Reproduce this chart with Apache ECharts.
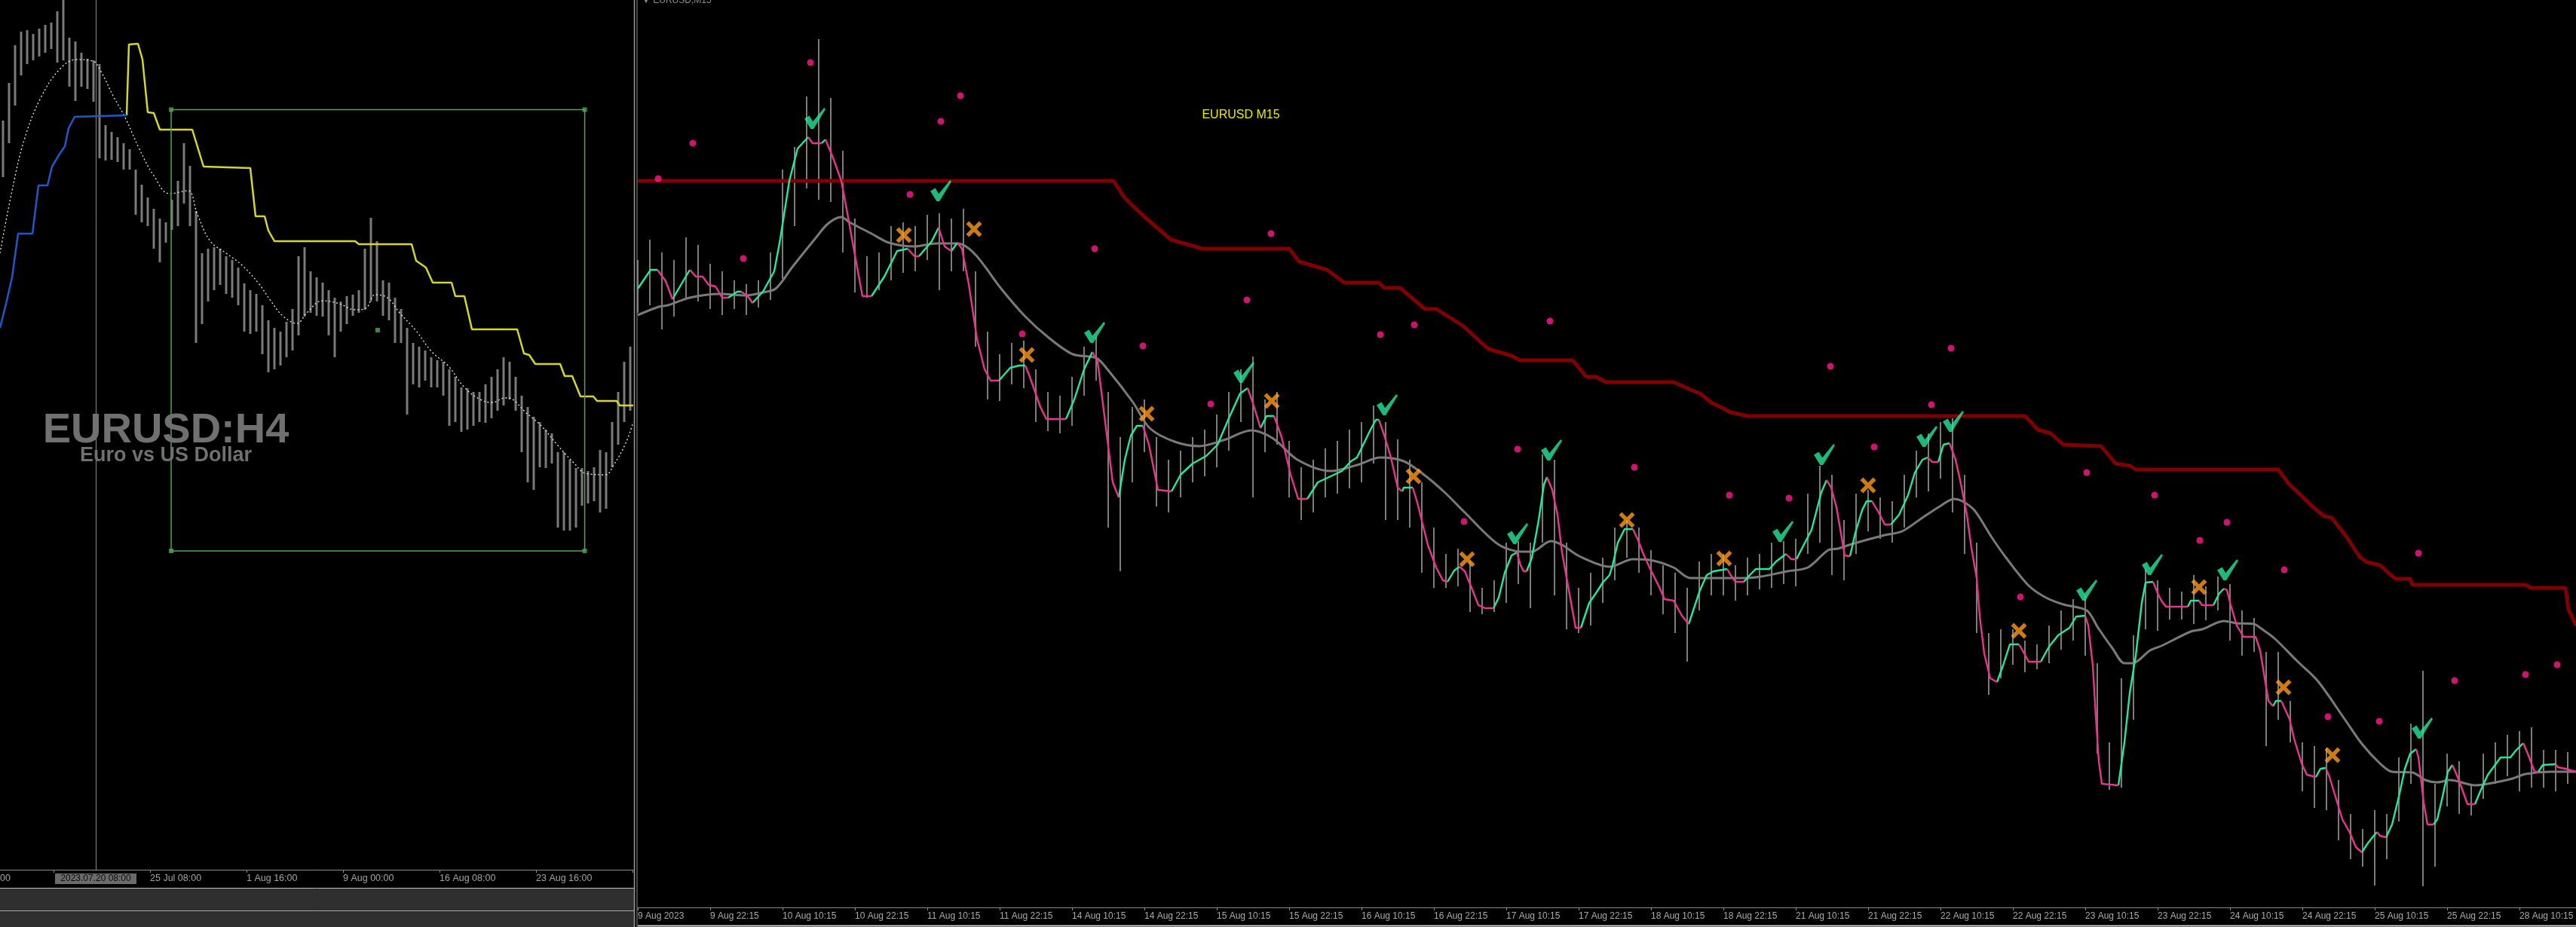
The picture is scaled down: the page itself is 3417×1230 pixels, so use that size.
<!DOCTYPE html>
<html><head><meta charset="utf-8">
<script src="https://cdn.jsdelivr.net/npm/echarts@6/dist/echarts.min.js"></script>
<style>html,body{margin:0;padding:0;background:#000;overflow:hidden}#c{width:3417px;height:1230px}</style>
</head><body><div id="c"></div>
<script>
// ---------- RIGHT PANEL (EURUSD M15), x = M15 bar index from 9 Aug 2023 ----------
const rightTickLabels = ['9 Aug 2023','9 Aug 22:15','10 Aug 10:15','10 Aug 22:15','11 Aug 10:15','11 Aug 22:15','14 Aug 10:15','14 Aug 22:15','15 Aug 10:15','15 Aug 22:15','16 Aug 10:15','16 Aug 22:15','17 Aug 10:15','17 Aug 22:15','18 Aug 10:15','18 Aug 22:15','21 Aug 10:15','21 Aug 22:15','22 Aug 10:15','22 Aug 22:15','23 Aug 10:15','23 Aug 22:15','24 Aug 10:15','24 Aug 22:15','25 Aug 10:15','25 Aug 22:15','28 Aug 10:15'];
const barsPerLabel = 48;
const candleStep = 8; // one aggregated 2-hour range every 8 M15 bars
const m15High = [1.10065,1.10146,1.10095,1.10065,1.10155,1.10125,1.10050,1.10020,1.09984,1.09969,
 1.09984,1.10095,1.10425,1.10515,1.10716,1.10944,1.10710,1.10500,1.10230,1.10080,
 1.10095,1.10200,1.10215,1.10200,1.10245,1.10251,1.10230,1.10269,1.10020,1.09780,
 1.09690,1.09735,1.09744,1.09630,1.09540,1.09525,1.09600,1.09720,1.09759,1.09540,
 1.09360,1.09480,1.09510,1.09360,1.09270,1.09306,1.09360,1.09390,1.09450,1.09540,
 1.09630,1.09681,1.09510,1.09540,1.09345,1.09240,1.09270,1.09315,1.09345,1.09390,
 1.09420,1.09486,1.09420,1.09351,1.09270,1.09180,1.09000,1.08895,1.08916,1.08865,
 1.08760,1.08790,1.08940,1.08946,1.08940,1.09291,1.09270,1.08940,1.08760,1.08820,
 1.08880,1.09000,1.09030,1.09000,1.08910,1.08850,1.08820,1.08760,1.08865,1.08895,
 1.08895,1.08850,1.08880,1.08895,1.08940,1.08946,1.08955,1.09135,1.09246,1.09210,
 1.09030,1.09135,1.09150,1.09120,1.09105,1.09210,1.09306,1.09375,1.09420,1.09435,
 1.09210,1.08940,1.08580,1.08595,1.08595,1.08550,1.08535,1.08610,1.08670,1.08715,
 1.08730,1.08460,1.08145,1.08400,1.08571,1.08835,1.08790,1.08760,1.08745,1.08811,
 1.08766,1.08805,1.08775,1.08670,1.08640,1.08505,1.08505,1.08310,1.08145,1.08130,
 1.08124,1.07995,1.07860,1.07800,1.07875,1.07860,1.08085,1.08220,1.08430,1.07980,
 1.08100,1.08070,1.07980,1.08100,1.08145,1.08175,1.08190,1.08205,1.08115,1.08115,
 1.08106];
const m15Low = [1.09855,1.09885,1.09789,1.09840,1.09915,1.09900,1.09870,1.09846,1.09870,1.09846,
 1.09876,1.09906,1.09990,1.10200,1.10350,1.10305,1.10296,1.10095,1.09936,1.09915,
 1.09945,1.09984,1.10014,1.10020,1.10065,1.09945,1.10020,1.10020,1.09720,1.09510,
 1.09504,1.09570,1.09555,1.09420,1.09384,1.09375,1.09405,1.09525,1.09585,1.09000,
 1.08826,1.09180,1.09300,1.09084,1.09060,1.09120,1.09180,1.09204,1.09240,1.09306,
 1.09420,1.09120,1.09300,1.09330,1.09120,1.09030,1.09060,1.09120,1.09135,1.09156,
 1.09180,1.09255,1.09030,1.09030,1.09000,1.08820,1.08760,1.08760,1.08766,1.08664,
 1.08655,1.08664,1.08700,1.08775,1.08679,1.08940,1.08730,1.08595,1.08580,1.08610,
 1.08700,1.08790,1.08880,1.08820,1.08730,1.08655,1.08580,1.08466,1.08670,1.08730,
 1.08730,1.08709,1.08730,1.08754,1.08760,1.08775,1.08766,1.08895,1.08940,1.08811,
 1.08790,1.08895,1.08985,1.08955,1.08940,1.09000,1.09120,1.09144,1.09195,1.09060,
 1.08895,1.08580,1.08334,1.08400,1.08454,1.08424,1.08436,1.08460,1.08514,1.08550,
 1.08490,1.08100,1.07956,1.07965,1.08235,1.08595,1.08589,1.08634,1.08634,1.08616,
 1.08631,1.08670,1.08550,1.08490,1.08505,1.08130,1.08235,1.08145,1.07950,1.07884,
 1.07875,1.07755,1.07680,1.07650,1.07575,1.07680,1.07830,1.07980,1.07572,1.07650,
 1.07890,1.07860,1.07854,1.07920,1.07980,1.08010,1.07950,1.07965,1.07965,1.07950,
 1.07980];
// signal line: [bar, price, direction(1 = rising/green, 0 = falling/pink)]
const signalPoints = [[0,1.09951,1],[8.5,1.10026,1],[13,1.10026,1],[18.5,1.09981,0],[23,1.09909,0],[34.5,1.10026,1],[38.5,1.09999,0],[43,1.09999,0],[47,1.09966,0],[51.5,1.09960,0],[56,1.09915,0],[60,1.09915,0],[66,1.09939,1],[68.5,1.09939,1],[73,1.09921,0],[76,1.09894,0],[83,1.09939,1],[90.5,1.10020,1],[94.5,1.10149,1],[100.5,1.10380,1],[106,1.10509,1],[113,1.10554,1],[116,1.10530,0],[122,1.10530,0],[124.5,1.10545,1],[129,1.10479,0],[135,1.10380,0],[139,1.10251,0],[143.5,1.10101,0],[149,1.09921,0],[155,1.09921,0],[163.5,1.09999,1],[172,1.10101,1],[179,1.10110,1],[183.5,1.10080,0],[186.5,1.10080,0],[195,1.10140,1],[199.5,1.10194,1],[203.5,1.10119,0],[208,1.10101,0],[212,1.10134,1],[215,1.10110,0],[219.5,1.09969,0],[225,1.09750,0],[230,1.09630,0],[234,1.09585,0],[239.5,1.09585,0],[247,1.09636,1],[253,1.09645,1],[257,1.09645,1],[260,1.09600,0],[267,1.09480,0],[271,1.09432,0],[284,1.09432,0],[289.5,1.09510,1],[296,1.09630,1],[301.5,1.09699,1],[305,1.09660,0],[310,1.09420,0],[315,1.09180,0],[319,1.09120,0],[323,1.09270,1],[327,1.09366,1],[331,1.09405,1],[335,1.09405,1],[339,1.09330,0],[345,1.09150,0],[354,1.09144,0],[360,1.09210,1],[368,1.09255,1],[377,1.09285,1],[384.5,1.09330,1],[392,1.09435,1],[399.5,1.09534,1],[404.5,1.09555,1],[408,1.09495,0],[413,1.09396,0],[417,1.09444,1],[422,1.09444,1],[427,1.09360,0],[433,1.09210,0],[438,1.09114,0],[444,1.09114,0],[451,1.09180,1],[459.5,1.09204,1],[467,1.09225,1],[473,1.09264,1],[477,1.09279,1],[486,1.09390,1],[489.5,1.09429,1],[491.5,1.09429,1],[495,1.09369,0],[499.5,1.09279,0],[504,1.09159,0],[507,1.09144,0],[508,1.09159,1],[514,1.09159,1],[517,1.09099,0],[524,1.08931,0],[529.5,1.08841,0],[534,1.08790,0],[537,1.08784,0],[541.5,1.08829,1],[545,1.08844,1],[548.5,1.08826,0],[553,1.08760,0],[557.5,1.08691,0],[562,1.08679,0],[567.5,1.08679,0],[571,1.08721,1],[575,1.08820,1],[579.5,1.08889,1],[583,1.08901,1],[585.5,1.08850,0],[587.5,1.08826,0],[589.5,1.08826,0],[593,1.08880,1],[597.5,1.09030,1],[601,1.09171,1],[603,1.09201,1],[606.5,1.09150,0],[610,1.09051,0],[613,1.08901,0],[617.5,1.08751,0],[622,1.08601,0],[625.5,1.08601,0],[631,1.08700,1],[635.5,1.08739,1],[640,1.08781,1],[644.5,1.08811,1],[646.5,1.08850,1],[650,1.08940,1],[654.5,1.08994,1],[660,1.08994,1],[663.5,1.08949,0],[666.5,1.08901,0],[671,1.08841,0],[677,1.08769,0],[681,1.08715,0],[687,1.08709,0],[692.5,1.08649,0],[697,1.08616,0],[700,1.08670,1],[704.5,1.08751,1],[709,1.08811,1],[713.5,1.08826,1],[722.5,1.08835,1],[724.5,1.08814,0],[728,1.08784,0],[733.5,1.08784,0],[738,1.08814,1],[741.5,1.08835,1],[750.5,1.08835,1],[755,1.08865,1],[761.5,1.08895,1],[765,1.08874,0],[768.5,1.08874,0],[771.5,1.08910,1],[778.5,1.08991,1],[785,1.09141,1],[788.5,1.09189,1],[791.5,1.09159,0],[795,1.09081,0],[800.5,1.08889,0],[804,1.08886,0],[807.5,1.08979,1],[812,1.09069,1],[815,1.09105,1],[818.5,1.09105,1],[823,1.09060,0],[827,1.09012,0],[831,1.09012,0],[836.5,1.09051,1],[842.5,1.09129,1],[847,1.09219,1],[852,1.09270,1],[855.5,1.09279,1],[858.5,1.09261,0],[862.5,1.09261,0],[866,1.09330,1],[870,1.09336,1],[874,1.09270,0],[877,1.09189,0],[881.5,1.09051,0],[884.5,1.08919,0],[888,1.08799,0],[890,1.08649,0],[893,1.08499,0],[897,1.08400,0],[901.5,1.08385,0],[905.5,1.08451,1],[910,1.08535,1],[916,1.08535,1],[919,1.08505,0],[922.5,1.08466,0],[930.5,1.08466,0],[936,1.08526,1],[942,1.08571,1],[949.5,1.08601,1],[954,1.08646,1],[960,1.08649,1],[962,1.08610,0],[965,1.08451,0],[967,1.08250,0],[969,1.08070,0],[971,1.07980,0],[982,1.07974,0],[986,1.08145,1],[989.5,1.08340,1],[993.5,1.08490,1],[997.5,1.08700,1],[1000,1.08781,1],[1005,1.08784,1],[1008,1.08739,0],[1010.5,1.08709,0],[1013.5,1.08685,0],[1028,1.08685,0],[1030,1.08709,1],[1035.5,1.08709,1],[1037.5,1.08691,0],[1045,1.08691,0],[1049,1.08739,1],[1052,1.08757,1],[1054,1.08751,0],[1056.5,1.08691,0],[1060.5,1.08610,0],[1065,1.08565,0],[1073,1.08565,0],[1076,1.08511,0],[1081.5,1.08310,0],[1084.5,1.08289,0],[1086.5,1.08310,1],[1090,1.08310,1],[1093,1.08271,0],[1095.5,1.08238,0],[1098.5,1.08160,0],[1103.5,1.08061,0],[1107,1.08016,0],[1113,1.08007,0],[1116,1.08040,1],[1119.5,1.08043,1],[1122,1.08007,0],[1125.5,1.07938,0],[1130.5,1.07839,0],[1135.5,1.07785,0],[1139.5,1.07728,0],[1143.5,1.07707,0],[1147,1.07740,1],[1150.5,1.07767,1],[1153.5,1.07788,1],[1155.5,1.07773,0],[1159.5,1.07767,0],[1163.5,1.07818,1],[1168,1.07929,1],[1172,1.08040,1],[1175.5,1.08100,1],[1179.5,1.08118,1],[1181,1.08085,0],[1184.5,1.07905,0],[1187,1.07818,0],[1191,1.07818,0],[1193.5,1.07839,1],[1197,1.07929,1],[1200.5,1.08028,1],[1203.5,1.08055,1],[1207,1.08007,0],[1210.5,1.07950,0],[1213.5,1.07899,0],[1218.5,1.07899,0],[1222,1.07950,1],[1227,1.08016,1],[1235.5,1.08085,1],[1242,1.08085,1],[1245.5,1.08112,1],[1250.5,1.08142,1],[1253.5,1.08100,0],[1258,1.08028,0],[1260.5,1.08028,0],[1263.5,1.08055,1],[1272,1.08058,1],[1273.5,1.08046,0],[1278.5,1.08040,0],[1285.5,1.08028,0]];
const maLine = [[0,1.09846],[14,1.09879],[20,1.09885],[34.5,1.09915],[54.5,1.09930],[71.5,1.09924],[83,1.09936],[91.5,1.09951],[103,1.10041],[117.5,1.10149],[126,1.10209],[135,1.10236],[140.5,1.10215],[155,1.10170],[166.5,1.10134],[183.5,1.10119],[198,1.10131],[212,1.10131],[223.5,1.10089],[241,1.09951],[257,1.09840],[272.5,1.09756],[288.5,1.09690],[304,1.09675],[311.5,1.09630],[328.5,1.09498],[339.5,1.09396],[356,1.09342],[372.5,1.09324],[388.5,1.09348],[407,1.09387],[421.5,1.09354],[437.5,1.09270],[459.5,1.09225],[477,1.09249],[492.5,1.09279],[508,1.09264],[521.5,1.09210],[535,1.09141],[548.5,1.09060],[570.5,1.08934],[586.5,1.08904],[593,1.08904],[605.5,1.08946],[613,1.08931],[624.5,1.08886],[644.5,1.08844],[660,1.08874],[671,1.08871],[687,1.08841],[698,1.08799],[733.5,1.08799],[745,1.08805],[762.5,1.08826],[776,1.08841],[789.5,1.08910],[796,1.08916],[805,1.08934],[827,1.08970],[838.5,1.08985],[852,1.09039],[863.5,1.09084],[873,1.09114],[878.5,1.09105],[886.5,1.09069],[898,1.08961],[907.5,1.08880],[922.5,1.08769],[934,1.08721],[945.5,1.08694],[961,1.08670],[968.5,1.08601],[978,1.08520],[986,1.08460],[991.5,1.08460],[1003,1.08511],[1010.5,1.08529],[1030,1.08586],[1037.5,1.08595],[1052,1.08628],[1060.5,1.08619],[1072,1.08616],[1076,1.08601],[1085.5,1.08559],[1100.5,1.08469],[1114,1.08391],[1132,1.08238],[1143.5,1.08139],[1155.5,1.08061],[1163.5,1.08028],[1177,1.08025],[1185.5,1.07995],[1193.5,1.07986],[1202,1.07995],[1218.5,1.07974],[1227,1.07980],[1243.5,1.08001],[1252,1.08019],[1268.5,1.08028],[1285.5,1.08028]];
const redLine = [[0,1.10380],[315.5,1.10380],[323,1.10311],[334.5,1.10245],[353.5,1.10146],[374.5,1.10110],[432,1.10110],[438.5,1.10059],[457,1.10026],[468.5,1.09975],[491.5,1.09975],[495,1.09954],[505.5,1.09954],[522,1.09870],[529.5,1.09870],[547,1.09804],[564,1.09711],[579.5,1.09684],[585,1.09666],[620,1.09666],[629,1.09600],[635.5,1.09600],[642,1.09579],[687,1.09579],[698,1.09549],[704.5,1.09534],[712.5,1.09495],[718,1.09480],[724.5,1.09459],[736,1.09444],[920,1.09444],[928.5,1.09390],[937,1.09375],[945.5,1.09330],[970.5,1.09324],[980,1.09255],[989.5,1.09246],[993.5,1.09231],[1088,1.09231],[1095,1.09174],[1104.5,1.09120],[1110.5,1.09084],[1118.5,1.09045],[1123.5,1.09039],[1133.5,1.08961],[1142,1.08883],[1147,1.08862],[1155.5,1.08850],[1165.5,1.08796],[1175.5,1.08796],[1177,1.08772],[1252,1.08772],[1255.5,1.08760],[1278.5,1.08760],[1280.5,1.08673],[1285.5,1.08610]];
const pinkDots = [[13.5,1.10389],[36.5,1.10530],[70,1.10071],[114.5,1.10851],[180.5,1.10326],[201,1.10617],[214,1.10719],[255,1.09771],[303,1.10110],[335,1.09723],[380,1.09492],[404,1.09906],[420,1.10170],[492.5,1.09768],[515,1.09807],[548,1.09024],[583.5,1.09312],[605,1.09822],[661,1.09240],[724,1.09129],[763.5,1.09117],[791,1.09642],[820,1.09321],[858,1.09489],[871,1.09714],[917,1.08724],[961,1.09219],[1006,1.09129],[1036,1.08949],[1054,1.09021],[1092,1.08832],[1121,1.08247],[1155,1.08229],[1181,1.08898],[1205,1.08391],[1252,1.08415],[1273,1.08454]];
const checkMarks = [[117.5,1.10629],[201,1.10341],[303,1.09777],[402,1.09618],[497,1.09489],[583.5,1.08976],[606,1.09309],[759.5,1.08985],[787,1.09291],[855,1.09363],[872.5,1.09423],[961,1.08751],[1004.5,1.08853],[1054.5,1.08832],[1183.5,1.08202]];
const crossMarks = [[176.5,1.10164],[223,1.10188],[258,1.09687],[337.5,1.09453],[420.5,1.09504],[514.5,1.09204],[550,1.08874],[656,1.09030],[720.5,1.08877],[816,1.09168],[916,1.08589],[1035.5,1.08763],[1091.5,1.08364],[1124,1.08094]];

// ---------- LEFT PANEL (EURUSD H4), x = H4 bar index ----------
const leftTickBars = [17.75,49.75,81.75,113.75,145.75,177.75,209.75];
const leftTickLabels = ['','25 Jul 08:00','1 Aug 16:00','9 Aug 00:00','16 Aug 08:00','23 Aug 16:00',''];
const h4High = [1.11720,1.12120,1.12520,1.12664,1.12680,1.12640,1.12696,1.12736,1.12760,1.12880,
 1.13000,1.12600,1.12560,1.12440,1.12376,1.12360,1.12320,1.11672,1.11600,1.11544,
 1.11480,1.11416,1.11200,1.11040,1.10904,1.10784,1.10680,1.10640,1.10880,1.11080,
 1.11480,1.11240,1.10760,1.10312,1.10360,1.10376,1.10360,1.10280,1.10240,1.10160,
 1.09992,1.09920,1.09880,1.09760,1.09600,1.09520,1.09480,1.09584,1.09720,1.10280,
 1.10376,1.10120,1.10056,1.10000,1.09920,1.09840,1.09800,1.09856,1.09872,1.09920,
 1.10360,1.10688,1.10440,1.10024,1.10000,1.09840,1.09720,1.09520,1.09360,1.09320,
 1.09280,1.09208,1.09176,1.09160,1.09080,1.09000,1.08888,1.08880,1.08840,1.08840,
 1.08920,1.09000,1.09080,1.09208,1.09160,1.09000,1.08800,1.08680,1.08576,1.08520,
 1.08440,1.08400,1.08200,1.08200,1.08120,1.08032,1.08032,1.08000,1.08040,1.08224,
 1.08200,1.08520,1.08840,1.09160,1.09320];
const h4Low = [1.11120,1.11480,1.11880,1.12200,1.12320,1.12360,1.12400,1.12440,1.12480,1.12336,
 1.12360,1.12080,1.11928,1.12080,1.12056,1.11920,1.11320,1.11296,1.11304,1.11280,
 1.11200,1.11200,1.10720,1.10640,1.10600,1.10360,1.10216,1.10424,1.10560,1.10600,
 1.10840,1.10600,1.09360,1.09560,1.09800,1.09920,1.09976,1.09880,1.09840,1.09760,
 1.09480,1.09456,1.09480,1.09240,1.09048,1.09080,1.09120,1.09208,1.09280,1.09440,
 1.09640,1.09680,1.09648,1.09640,1.09440,1.09208,1.09480,1.09560,1.09648,1.09680,
 1.09712,1.09800,1.09800,1.09648,1.09600,1.09360,1.09360,1.08600,1.08920,1.08888,
 1.08960,1.08888,1.08888,1.08800,1.08480,1.08520,1.08416,1.08440,1.08480,1.08520,
 1.08512,1.08560,1.08640,1.08696,1.08760,1.08640,1.08200,1.07880,1.07800,1.08040,
 1.08032,1.08080,1.07400,1.07368,1.07368,1.07400,1.07632,1.07656,1.07680,1.07560,
 1.07600,1.08040,1.08280,1.08520,1.08640];
const h4MA = [[0,1.10312],[4,1.10976],[8,1.11512],[13.5,1.11960],[20,1.12272],[25.5,1.12368],[30.75,1.12352],[33.5,1.12240],[37.5,1.11984],[41.5,1.11752],[46.25,1.11416],[51,1.11136],[56.25,1.10944],[62.25,1.10976],[65.5,1.10720],[69.75,1.10440],[75,1.10312],[80.25,1.10184],[85.75,1.09992],[89.75,1.09808],[93.75,1.09648],[98.5,1.09568],[101.75,1.09680],[107,1.09808],[112.5,1.09776],[117.75,1.09712],[121.25,1.09728],[124.5,1.09872],[128.5,1.09840],[132.5,1.09680],[138,1.09488],[143.25,1.09264],[148.75,1.09112],[154,1.08888],[159.25,1.08760],[163.25,1.08728],[167.5,1.08776],[170,1.08760],[174,1.08632],[179.5,1.08480],[184.75,1.08280],[190.25,1.08088],[194.25,1.07976],[200.75,1.07960],[203.5,1.08064],[207.5,1.08296],[210,1.08520]];
const h4Yellow = [[42,1.11776],[42.75,1.12528],[45.75,1.12536],[47.25,1.12368],[49,1.11808],[51,1.11800],[53,1.11624],[63.75,1.11624],[67.5,1.11232],[83,1.11216],[84.75,1.10704],[87.75,1.10704],[89,1.10552],[91,1.10440],[117.75,1.10440],[119,1.10408],[136.5,1.10408],[138,1.10232],[141.25,1.10160],[143.5,1.10000],[149.75,1.10000],[151,1.09856],[154,1.09856],[156.5,1.09504],[171.5,1.09504],[173.75,1.09248],[175.5,1.09232],[177.5,1.09136],[185.75,1.09136],[187.25,1.09008],[189.75,1.09008],[192.5,1.08792],[196.75,1.08792],[198,1.08744],[204.5,1.08744],[205.5,1.08696],[210,1.08696]];
const h4Blue = [[0,1.09520],[2,1.09776],[4,1.10056],[6,1.10520],[10.75,1.10520],[12.75,1.11032],[15.75,1.11032],[17.25,1.11232],[19.5,1.11352],[21.5,1.11448],[22.75,1.11640],[24.75,1.11760],[42,1.11776]];
const boxBars = [56.75,193.9];
const boxPrices = [1.11836,1.07152];
const boxMid = [125.25,1.09496];

// ---------- build ----------
const GREEN = '#26E89B', PINK = '#E8358C';
function runsOf(points, dir) {
  const out = []; let prevIn = false;
  for (let i = 1; i < points.length; i++) {
    const inRun = points[i][2] === dir;
    if (inRun) {
      if (!prevIn) {
        if (out.length) out.push([(points[i-1][0] + points[i][0]) / 2, '-']);
        out.push([points[i-1][0], points[i-1][1]]);
      }
      out.push([points[i][0], points[i][1]]);
    }
    prevIn = inRun;
  }
  return out;
}
function rangeRender(width, color) {
  return function (params, api) {
    const x = api.value(0);
    const top = api.coord([x, api.value(2)]);
    const bot = api.coord([x, api.value(1)]);
    return {type: 'rect', shape: {x: top[0] - width / 2, y: top[1], width: width, height: Math.max(1, bot[1] - top[1])}, style: {fill: color}};
  };
}
const rightTickBars = rightTickLabels.map((_, i) => i * barsPerLabel);
const m15Ranges = m15High.map((h, k) => [k * candleStep, m15Low[k], h]);
const h4Ranges = h4High.map((h, k) => [1 + 2 * k, h4Low[k], h]);
const boxPath = [[boxBars[0], boxPrices[0]], [boxBars[1], boxPrices[0]], [boxBars[1], boxPrices[1]], [boxBars[0], boxPrices[1]], [boxBars[0], boxPrices[0]]];

const FONT = '"Liberation Sans", Arial, sans-serif';
const checkPath = 'path://M0,15 L7,11 L12,19 L28,0 L30,2 L13,29 L9,29 Z';
const crossPath = 'path://M0,4 L4,0 L11,7 L18,0 L22,4 L15,11 L22,18 L18,22 L11,15 L4,22 L0,18 L7,11 Z';

const option = {
  backgroundColor: '#000',
  animation: false,
  grid: [
    {left: 0, top: 0, width: 840, height: 1154},
    {left: 846, top: 0, width: 2571, height: 1204}
  ],
  xAxis: [
    {type: 'value', gridIndex: 0, min: 0, max: 210, splitLine: {show: false},
     axisLine: {show: true, onZero: false, lineStyle: {color: '#8a8a8a', width: 1}},
     axisTick: {show: true, length: 4, lineStyle: {color: '#8a8a8a'}, customValues: leftTickBars},
     axisLabel: {show: true, customValues: leftTickBars, align: 'left', margin: 5, color: '#a3a3a3', fontFamily: FONT, fontSize: 12.5,
       formatter: v => { const i = leftTickBars.indexOf(v); return i >= 0 ? leftTickLabels[i] : ''; }}},
    {type: 'value', gridIndex: 1, min: 0, max: 1285.5, splitLine: {show: false},
     axisLine: {show: true, onZero: false, lineStyle: {color: '#8a8a8a', width: 1}},
     axisTick: {show: true, length: 4, lineStyle: {color: '#8a8a8a'}, customValues: rightTickBars},
     axisLabel: {show: true, customValues: rightTickBars, align: 'left', margin: 6, color: '#a8a8a8', fontFamily: FONT, fontSize: 12,
       formatter: v => { const i = Math.round(v / barsPerLabel); return rightTickLabels[i] || ''; }}}
  ],
  yAxis: [
    {type: 'value', gridIndex: 0, min: 1.03768, max: 1.13, show: false, splitLine: {show: false}},
    {type: 'value', gridIndex: 1, min: 1.07488, max: 1.111, show: false, splitLine: {show: false}}
  ],
  series: [
    // left panel
    {type: 'custom', xAxisIndex: 0, yAxisIndex: 0, renderItem: rangeRender(3, '#7a7a7a'), data: h4Ranges, z: 1, silent: true},
    {type: 'line', xAxisIndex: 0, yAxisIndex: 0, data: h4MA, smooth: 0.4, symbol: 'none', lineStyle: {color: '#e8e8e8', width: 1.3, type: [2, 3]}, z: 3},
    {type: 'line', xAxisIndex: 0, yAxisIndex: 0, data: h4Yellow, symbol: 'none', lineStyle: {color: '#D6D625', width: 2.5}, z: 4},
    {type: 'line', xAxisIndex: 0, yAxisIndex: 0, data: h4Blue, symbol: 'none', lineStyle: {color: '#2058C8', width: 2.5}, z: 4},
    {type: 'line', xAxisIndex: 0, yAxisIndex: 0, data: boxPath, symbol: 'none', lineStyle: {color: '#53a653', width: 1.5}, z: 5},
    {type: 'scatter', xAxisIndex: 0, yAxisIndex: 0, data: boxPath.slice(0, 4).concat([boxMid]), symbol: 'rect', symbolSize: 6, itemStyle: {color: '#53a653'}, z: 6},
    // right panel
    {type: 'custom', xAxisIndex: 1, yAxisIndex: 1, renderItem: rangeRender(2, '#7c7c7c'), data: m15Ranges, z: 1, silent: true},
    {type: 'line', xAxisIndex: 1, yAxisIndex: 1, data: redLine, symbol: 'none', lineStyle: {color: '#800000', width: 5}, z: 2},
    {type: 'line', xAxisIndex: 1, yAxisIndex: 1, data: maLine, smooth: 0.3, symbol: 'none', lineStyle: {color: '#7a7a7a', width: 3}, z: 3},
    {type: 'line', xAxisIndex: 1, yAxisIndex: 1, data: runsOf(signalPoints, 1), connectNulls: false, symbol: 'none', lineStyle: {color: GREEN, width: 2.4}, z: 4},
    {type: 'line', xAxisIndex: 1, yAxisIndex: 1, data: runsOf(signalPoints, 0), connectNulls: false, symbol: 'none', lineStyle: {color: PINK, width: 2.4}, z: 4},
    {type: 'scatter', xAxisIndex: 1, yAxisIndex: 1, data: pinkDots, symbol: 'circle', symbolSize: 9, itemStyle: {color: '#FF1A8C'}, z: 5},
    {type: 'scatter', xAxisIndex: 1, yAxisIndex: 1, data: checkMarks, symbol: checkPath, symbolSize: [28, 28], itemStyle: {color: GREEN}, z: 6},
    {type: 'scatter', xAxisIndex: 1, yAxisIndex: 1, data: crossMarks, symbol: crossPath, symbolSize: [21, 21], itemStyle: {color: '#FF9A1A'}, z: 6}
  ],
  graphic: [
    {type: 'rect', shape: {x: 0, y: 1178, width: 841, height: 52}, style: {fill: '#2f2f2f'}, z: 10},
    {type: 'line', shape: {x1: 0, y1: 1178.5, x2: 841, y2: 1178.5}, style: {stroke: '#bdbdbd', lineWidth: 1}, z: 11},
    {type: 'line', shape: {x1: 0, y1: 1208.5, x2: 841, y2: 1208.5}, style: {stroke: '#a6a6a6', lineWidth: 1}, z: 11},
    {type: 'line', shape: {x1: 841.5, y1: 0, x2: 841.5, y2: 1230}, style: {stroke: '#9a9a9a', lineWidth: 1.5}, z: 11},
    {type: 'line', shape: {x1: 845, y1: 0, x2: 845, y2: 1230}, style: {stroke: '#8a8a8a', lineWidth: 1}, z: 11},
    {type: 'line', shape: {x1: 846, y1: 1228.5, x2: 3417, y2: 1228.5}, style: {stroke: '#d0d0d0', lineWidth: 2}, z: 11},
    {type: 'line', shape: {x1: 127.5, y1: 0, x2: 127.5, y2: 1154}, style: {stroke: '#8a8a8a', lineWidth: 1}, z: 2},
    {type: 'rect', shape: {x: 73, y: 1159, width: 108, height: 14}, style: {fill: '#6b6b6b'}, z: 12},
    {type: 'text', x: 127, y: 1166, style: {text: '2023.07.20 08:00', fill: '#0b0b0b', font: '12px ' + FONT, align: 'center', verticalAlign: 'middle'}, z: 13},
    {type: 'text', x: 0, y: 1166, style: {text: '00', fill: '#a3a3a3', font: '12.5px ' + FONT, align: 'left', verticalAlign: 'middle'}, z: 13},
    {type: 'text', x: 220, y: 572, style: {text: 'EURUSD:H4', fill: '#707070', font: 'bold 56px ' + FONT, align: 'center', verticalAlign: 'middle'}, z: 8},
    {type: 'text', x: 220, y: 605, style: {text: 'Euro vs US Dollar', fill: '#707070', font: 'bold 27px ' + FONT, align: 'center', verticalAlign: 'middle'}, z: 8},
    {type: 'text', x: 851, y: 1, style: {text: '\u25BC EURUSD,M15', fill: '#8c8c8c', font: '12px ' + FONT, align: 'left', verticalAlign: 'middle'}, z: 13},
    {type: 'text', x: 1646, y: 153, style: {text: 'EURUSD M15', fill: '#E8E800', font: '16px ' + FONT, align: 'center', verticalAlign: 'middle'}, z: 8}
  ]
};
const chart = echarts.init(document.getElementById('c'), null, {renderer: 'canvas', width: 3417, height: 1230});
chart.setOption(option);
</script></body></html>
